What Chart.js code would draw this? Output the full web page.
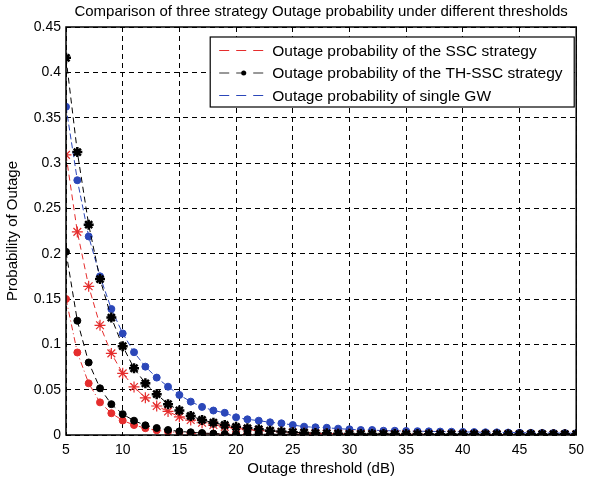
<!DOCTYPE html>
<html>
<head>
<meta charset="utf-8">
<script src="https://cdn.jsdelivr.net/npm/chart.js@4.4.0/dist/chart.umd.min.js"></script>
<style>
html,body{margin:0;padding:0;background:#fff;}
#wrap{width:591px;height:482px;position:relative;}
</style>
</head>
<body>
<div id="wrap"><canvas id="c" width="591" height="482"></canvas></div>
<script>
const thresholds = [5,6,7,8,9,10,11,12,13,14,15,16,17,18,19,20,21,22,23,24,25,26,27,28,29,30,31,32,33,34,35,36,37,38,39,40,41,42,43,44,45,46,47,48,49,50];

const sscUpper = [0.309,0.224,0.164,0.121,0.090,0.068,0.053,0.041,0.032,0.026,0.020,0.0165,0.0135,0.011,0.009,0.0075,0.006,0.005,0.004,0.0033,0.0027,0.0022,0.0018,0.0015,0.0012,0.001,0.0009,0.0008,0.0008,0.0007,0.0007,0.0006,0.0006,0.0005,0.0005,0.0005,0.0004,0.0004,0.0004,0.0004,0.0003,0.0003,0.0003,0.0003,0.0003,0.0003];
const sscLower = [0.150,0.091,0.057,0.036,0.024,0.016,0.011,0.0075,0.0052,0.0037,0.0027,0.002,0.0015,0.0011,0.0008,0.0006,0.0005,0.0004,0.0004,0.0003,0.0003,0.0003,0.0002,0.0002,0.0002,0.0002,0.0002,0.0001,0.0001,0.0001,0.0001,0.0001,0.0001,0.0001,0.0001,0.0001,0.0001,0.0001,0.0001,0.0001,0.0001,0.0001,0.0001,0.0001,0.0001,0.0001];
const thSscUpper = [0.416,0.312,0.232,0.172,0.1295,0.098,0.0736,0.057,0.045,0.034,0.027,0.021,0.0166,0.0136,0.011,0.009,0.0074,0.0063,0.0048,0.0038,0.003,0.0025,0.0021,0.0018,0.0015,0.0013,0.0012,0.0011,0.0011,0.001,0.001,0.001,0.0009,0.0009,0.0009,0.0009,0.0008,0.0008,0.0008,0.0008,0.0008,0.0008,0.0008,0.0008,0.0008,0.0008];
const thSscLower = [0.202,0.126,0.080,0.0515,0.034,0.023,0.0158,0.0107,0.0077,0.0055,0.004,0.003,0.0022,0.0016,0.0012,0.001,0.0009,0.0009,0.0008,0.0008,0.0008,0.0007,0.0007,0.0007,0.0007,0.0007,0.0006,0.0006,0.0006,0.0006,0.0006,0.0006,0.0006,0.0006,0.0005,0.0005,0.0005,0.0005,0.0005,0.0005,0.0005,0.0005,0.0005,0.0005,0.0005,0.0005];
const singleGW = [0.362,0.281,0.219,0.175,0.139,0.112,0.0913,0.0754,0.0633,0.0533,0.0442,0.0368,0.031,0.027,0.0245,0.0195,0.0173,0.0158,0.014,0.0129,0.011,0.0092,0.0085,0.008,0.007,0.0063,0.0055,0.0055,0.0047,0.0047,0.0044,0.0042,0.004,0.0038,0.0036,0.0034,0.0032,0.003,0.0029,0.0027,0.0026,0.0024,0.0023,0.0022,0.0021,0.002];

const xTicks = [5,10,15,20,25,30,35,40,45,50];
const yTicks = [0,0.05,0.1,0.15,0.2,0.25,0.3,0.35,0.4,0.45];

const titleText = 'Comparison of three strategy Outage probability under different thresholds';
const xTitle = 'Outage threshold (dB)';
const yTitle = 'Probability of Outage';
const legendLabels = ['Outage probability of the SSC strategy','Outage probability of the TH-SSC strategy','Outage probability of single GW'];

const RED = '#e52d2d', BLACK = '#000000', BLUE = '#2b47b9';
const FONT = '"Liberation Sans", Arial, Helvetica, sans-serif';

function pts(arr){ return thresholds.map((x,i)=>({x:x,y:arr[i]})); }

const frameLegendTitle = {
  id:'frameLegendTitle',
  afterDraw(chart){
    const ctx = chart.ctx, a = chart.chartArea;
    ctx.save();
    ctx.setLineDash([]);
    ctx.strokeStyle = '#000'; ctx.lineWidth = 1.5;
    ctx.strokeRect(a.left, a.top, a.right - a.left, a.bottom - a.top);
    // title
    ctx.fillStyle = '#000';
    ctx.font = '15px ' + FONT;
    ctx.textAlign = 'center'; ctx.textBaseline = 'middle';
    ctx.fillText(titleText, (a.left + a.right) / 2, 12);
    // legend
    const bx = a.right - 366, by = a.top + 10, bw = 364, bh = 70;
    ctx.fillStyle = '#fff';
    ctx.fillRect(bx, by, bw, bh);
    ctx.lineWidth = 1.2; ctx.strokeStyle = '#000';
    ctx.strokeRect(bx, by, bw, bh);
    const cols = [RED, '#333', BLUE];
    ctx.font = '15.5px ' + FONT;
    ctx.textAlign = 'left';
    for (let i=0;i<3;i++){
      const y = by + 13.5 + i*22.5;
      ctx.strokeStyle = cols[i]; ctx.lineWidth = 1.2;
      ctx.setLineDash([10,7]);
      ctx.beginPath(); ctx.moveTo(bx+9, y); ctx.lineTo(bx+57, y); ctx.stroke();
      ctx.setLineDash([]);
      if (i===1){
        ctx.fillStyle = BLACK;
        ctx.beginPath(); ctx.arc(bx+33.5, y, 2.5, 0, Math.PI*2); ctx.fill();
      }
      ctx.fillStyle = '#000';
      ctx.fillText(legendLabels[i], bx+62, y+1);
    }
    ctx.restore();
  }
};

new Chart(document.getElementById('c'), {
  type:'line',
  data:{
    datasets:[
      {label:legendLabels[1], data:pts(thSscLower), borderColor:BLACK, backgroundColor:BLACK, borderWidth:1, borderDash:[6,4], pointStyle:'circle', pointRadius:3.5, pointBorderWidth:1},
      {label:legendLabels[1], data:pts(thSscUpper), borderColor:BLACK, backgroundColor:BLACK, borderWidth:1, borderDash:[6,4], pointStyle:'star', pointRadius:5, pointBorderWidth:2.5},
      {label:legendLabels[0], data:pts(sscLower), borderColor:RED, backgroundColor:RED, borderWidth:1, borderDash:[6,3,1,3], pointStyle:'circle', pointRadius:3.5, pointBorderWidth:1},
      {label:legendLabels[0], data:pts(sscUpper), borderColor:RED, backgroundColor:RED, borderWidth:1, borderDash:[6,4], pointStyle:'star', pointRadius:5.5, pointBorderWidth:1.2},
      {label:legendLabels[2], data:pts(singleGW), borderColor:BLUE, backgroundColor:BLUE, borderWidth:1, borderDash:[6,3], pointStyle:'circle', pointRadius:3.5, pointBorderWidth:1}
    ]
  },
  options:{
    responsive:false,
    animation:false,
    devicePixelRatio:1,
    layout:{padding:{top:27,right:8,left:0,bottom:0}},
    plugins:{legend:{display:false}, title:{display:false}, tooltip:{enabled:false}},
    elements:{line:{tension:0}},
    scales:{
      x:{
        type:'linear', min:5, max:50,
        afterBuildTicks(s){ s.ticks = xTicks.map(v=>({value:v})); },
        afterFit(s){ s.height = 47; },
        grid:{color:'#000', lineWidth:1, drawTicks:false},
        border:{display:false, dash:[5,4]},
        ticks:{color:'#000', font:{family:FONT, size:14}, padding:7, maxRotation:0, autoSkip:false},
        title:{display:true, text:xTitle, color:'#000', font:{family:FONT, size:15}, padding:{top:0,bottom:4}}
      },
      y:{
        type:'linear', min:0, max:0.45,
        afterBuildTicks(s){ s.ticks = yTicks.map(v=>({value:v})); },
        afterFit(s){ s.width = 66; },
        grid:{color:'#000', lineWidth:1, drawTicks:false},
        border:{display:false, dash:[5,4]},
        ticks:{color:'#000', font:{family:FONT, size:14}, padding:5, autoSkip:false,
          callback:(v)=>String(Number(v.toFixed(2)))},
        title:{display:true, text:yTitle, color:'#000', font:{family:FONT, size:15}, padding:{top:4,bottom:0}}
      }
    }
  },
  plugins:[frameLegendTitle]
});
</script>
</body>
</html>
